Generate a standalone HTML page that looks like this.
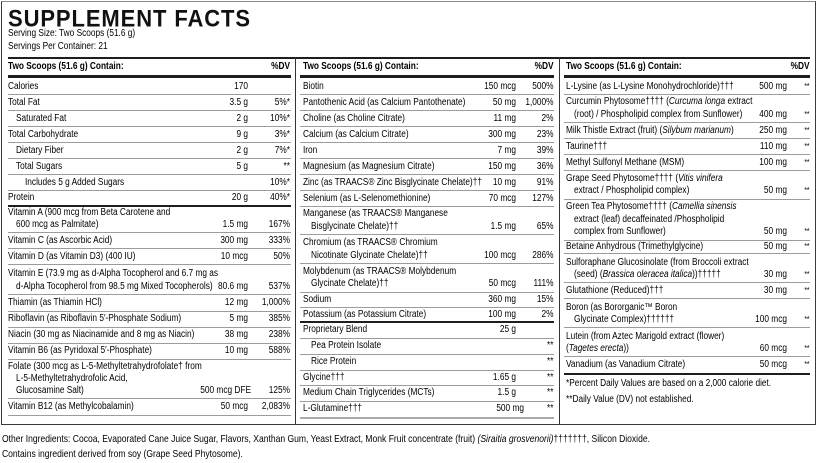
<!DOCTYPE html>
<html><head><meta charset="utf-8">
<style>
html,body{margin:0;padding:0}
body{width:819px;height:463px;overflow:hidden;background:#fff;position:relative;font-family:"Liberation Sans",Arial,sans-serif;color:#000}
#box{position:absolute;left:1px;top:1px;width:815px;height:424px;box-sizing:border-box;border:1.5px solid #3a3a3a;border-top-color:#8a8a8a}
#title{position:absolute;left:8px;top:6.9px;font-size:22px;line-height:22px;font-weight:bold;letter-spacing:0.9px;white-space:nowrap;color:#111;transform:scaleY(1.08);transform-origin:0 0}
.h{position:absolute;height:1px;background:#9c9c9c}
.k{background:#1e1e1e;height:2px}
.t3{background:#1e1e1e;height:3px}
.c1{left:8px;width:283px}
.c2{left:300px;width:254px}
.c3{left:564px;width:246px}
.v{position:absolute;top:57px;height:367px;width:1.5px;background:#333}
#s{position:absolute;left:0;top:0;width:calc(819px/.83);height:463px;transform:scaleX(.83);transform-origin:0 0;font-size:10px}
#s div{position:absolute;white-space:nowrap;line-height:12px}
.b{font-weight:bold}
.L0{left:calc(8px/.83)}
.L1{left:calc(8px/.83)} .L1a{left:calc(16px/.83)} .L1b{left:calc(25px/.83)}
.A1{right:calc(571px/.83)} .D1{right:calc(529px/.83)}
.L2{left:calc(303px/.83)} .L2a{left:calc(311px/.83)}
.A2{right:calc(303px/.83)} .D2{right:calc(265.5px/.83)}
.L3{left:calc(566px/.83)} .L3a{left:calc(574px/.83)}
.A3{right:calc(32px/.83)} .D3{right:calc(9.5px/.83)}
.sm{font-size:8px}
.ft{left:calc(2px/.83);font-size:10.3px}
i{font-style:italic}
</style></head><body>
<div id="box"></div>
<div id="title">SUPPLEMENT FACTS</div>

<!-- lines -->
<div class="h k" style="left:8px;width:802px;top:57px"></div>
<div class="h t3 c1" style="top:75px"></div>
<div class="h t3 c2" style="top:75px"></div>
<div class="h t3 c3" style="top:75px"></div>
<div class="v" style="left:294.5px"></div>
<div class="v" style="left:558.5px"></div>

<!-- col1 lines -->
<div class="h c1" style="top:94px"></div>
<div class="h c1" style="top:110px"></div>
<div class="h c1" style="top:126px"></div>
<div class="h c1" style="top:142px"></div>
<div class="h c1" style="top:158px"></div>
<div class="h c1" style="top:174px"></div>
<div class="h c1" style="top:190px"></div>
<div class="h k c1" style="top:205px"></div>
<div class="h c1" style="top:232px"></div>
<div class="h c1" style="top:248px"></div>
<div class="h c1" style="top:264px"></div>
<div class="h c1" style="top:294px"></div>
<div class="h c1" style="top:311px"></div>
<div class="h c1" style="top:327px"></div>
<div class="h c1" style="top:343px"></div>
<div class="h c1" style="top:359px"></div>
<div class="h c1" style="top:398px"></div>
<div class="h c1" style="top:415px"></div>

<!-- col2 lines -->
<div class="h c2" style="top:94px"></div>
<div class="h c2" style="top:110px"></div>
<div class="h c2" style="top:126px"></div>
<div class="h c2" style="top:142px"></div>
<div class="h c2" style="top:158px"></div>
<div class="h c2" style="top:174px"></div>
<div class="h c2" style="top:190px"></div>
<div class="h c2" style="top:206px"></div>
<div class="h c2" style="top:234px"></div>
<div class="h c2" style="top:263px"></div>
<div class="h c2" style="top:292px"></div>
<div class="h c2" style="top:307px"></div>
<div class="h k c2" style="top:321px"></div>
<div class="h c2" style="top:338px"></div>
<div class="h c2" style="top:354px"></div>
<div class="h c2" style="top:370px"></div>
<div class="h c2" style="top:385px"></div>
<div class="h c2" style="top:401px"></div>
<div class="h c2" style="top:417px;height:2px;background:#aaa"></div>

<!-- col3 lines -->
<div class="h c3" style="top:94px"></div>
<div class="h c3" style="top:122px"></div>
<div class="h c3" style="top:138px"></div>
<div class="h c3" style="top:154px"></div>
<div class="h c3" style="top:170px"></div>
<div class="h c3" style="top:199px"></div>
<div class="h c3" style="top:240px"></div>
<div class="h c3" style="top:253px"></div>
<div class="h c3" style="top:282px"></div>
<div class="h c3" style="top:298px"></div>
<div class="h c3" style="top:327px"></div>
<div class="h c3" style="top:356px"></div>
<div class="h k c3" style="top:373px"></div>

<div id="s">
<div class="L0" style="top:28px">Serving Size: Two Scoops (51.6 g)</div>
<div class="L0" style="top:40.5px">Servings Per Container: 21</div>

<!-- column 1 -->
<div class="L1 b" style="top:61px">Two Scoops (51.6 g) Contain:</div>
<div class="D1 b" style="top:61px">%DV</div>

<div class="L1" style="top:80.5px">Calories</div><div class="A1" style="top:80.5px">170</div>
<div class="L1" style="top:96.5px">Total Fat</div><div class="A1" style="top:96.5px">3.5 g</div><div class="D1" style="top:96.5px">5%*</div>
<div class="L1a" style="top:112.5px">Saturated Fat</div><div class="A1" style="top:112.5px">2 g</div><div class="D1" style="top:112.5px">10%*</div>
<div class="L1" style="top:128.5px">Total Carbohydrate</div><div class="A1" style="top:128.5px">9 g</div><div class="D1" style="top:128.5px">3%*</div>
<div class="L1a" style="top:144.5px">Dietary Fiber</div><div class="A1" style="top:144.5px">2 g</div><div class="D1" style="top:144.5px">7%*</div>
<div class="L1a" style="top:160.5px">Total Sugars</div><div class="A1" style="top:160.5px">5 g</div><div class="D1" style="top:160.5px">**</div>
<div class="L1b" style="top:176.5px">Includes 5 g Added Sugars</div><div class="D1" style="top:176.5px">10%*</div>
<div class="L1" style="top:191.5px">Protein</div><div class="A1" style="top:191.5px">20 g</div><div class="D1" style="top:191.5px">40%*</div>
<div class="L1" style="top:206.5px">Vitamin A (900 mcg from Beta Carotene and</div>
<div class="L1a" style="top:219px">600 mcg as Palmitate)</div><div class="A1" style="top:219px">1.5 mg</div><div class="D1" style="top:219px">167%</div>
<div class="L1" style="top:235px">Vitamin C (as Ascorbic Acid)</div><div class="A1" style="top:235px">300 mg</div><div class="D1" style="top:235px">333%</div>
<div class="L1" style="top:251px">Vitamin D (as Vitamin D3) (400 IU)</div><div class="A1" style="top:251px">10 mcg</div><div class="D1" style="top:251px">50%</div>
<div class="L1" style="top:267.5px">Vitamin E (73.9 mg as d-Alpha Tocopherol and 6.7 mg as</div>
<div class="L1a" style="top:280.5px">d-Alpha Tocopherol from 98.5 mg Mixed Tocopherols)</div><div class="A1" style="top:280.5px">80.6 mg</div><div class="D1" style="top:280.5px">537%</div>
<div class="L1" style="top:296.5px">Thiamin (as Thiamin HCl)</div><div class="A1" style="top:296.5px">12 mg</div><div class="D1" style="top:296.5px">1,000%</div>
<div class="L1" style="top:313px">Riboflavin (as Riboflavin 5′-Phosphate Sodium)</div><div class="A1" style="top:313px">5 mg</div><div class="D1" style="top:313px">385%</div>
<div class="L1" style="top:329px">Niacin (30 mg as Niacinamide and 8 mg as Niacin)</div><div class="A1" style="top:329px">38 mg</div><div class="D1" style="top:329px">238%</div>
<div class="L1" style="top:345px">Vitamin B6 (as Pyridoxal 5′-Phosphate)</div><div class="A1" style="top:345px">10 mg</div><div class="D1" style="top:345px">588%</div>
<div class="L1" style="top:360.5px">Folate (300 mcg as L-5-Methyltetrahydrofolate† from</div>
<div class="L1a" style="top:373px">L-5-Methyltetrahydrofolic Acid,</div>
<div class="L1a" style="top:385px">Glucosamine Salt)</div><div style="top:385px;right:calc(568px/.83)">500 mcg DFE</div><div class="D1" style="top:385px">125%</div>
<div class="L1" style="top:401px">Vitamin B12 (as Methylcobalamin)</div><div class="A1" style="top:401px">50 mcg</div><div class="D1" style="top:401px">2,083%</div>

<!-- column 2 -->
<div class="L2 b" style="top:61px">Two Scoops (51.6 g) Contain:</div>
<div class="D2 b" style="top:61px">%DV</div>
<div class="L2" style="top:80.5px">Biotin</div><div class="A2" style="top:80.5px">150 mcg</div><div class="D2" style="top:80.5px">500%</div>
<div class="L2" style="top:96.5px">Pantothenic Acid (as Calcium Pantothenate)</div><div class="A2" style="top:96.5px">50 mg</div><div class="D2" style="top:96.5px">1,000%</div>
<div class="L2" style="top:112.5px">Choline (as Choline Citrate)</div><div class="A2" style="top:112.5px">11 mg</div><div class="D2" style="top:112.5px">2%</div>
<div class="L2" style="top:128.5px">Calcium (as Calcium Citrate)</div><div class="A2" style="top:128.5px">300 mg</div><div class="D2" style="top:128.5px">23%</div>
<div class="L2" style="top:144.5px">Iron</div><div class="A2" style="top:144.5px">7 mg</div><div class="D2" style="top:144.5px">39%</div>
<div class="L2" style="top:160.5px">Magnesium (as Magnesium Citrate)</div><div class="A2" style="top:160.5px">150 mg</div><div class="D2" style="top:160.5px">36%</div>
<div class="L2" style="top:176.5px">Zinc (as TRAACS® Zinc Bisglycinate Chelate)††</div><div class="A2" style="top:176.5px">10 mg</div><div class="D2" style="top:176.5px">91%</div>
<div class="L2" style="top:192.5px">Selenium (as L-Selenomethionine)</div><div class="A2" style="top:192.5px">70 mcg</div><div class="D2" style="top:192.5px">127%</div>
<div class="L2" style="top:208px">Manganese (as TRAACS® Manganese</div>
<div class="L2a" style="top:220.5px">Bisglycinate Chelate)††</div><div class="A2" style="top:220.5px">1.5 mg</div><div class="D2" style="top:220.5px">65%</div>
<div class="L2" style="top:237px">Chromium (as TRAACS® Chromium</div>
<div class="L2a" style="top:249.5px">Nicotinate Glycinate Chelate)††</div><div class="A2" style="top:249.5px">100 mcg</div><div class="D2" style="top:249.5px">286%</div>
<div class="L2" style="top:265.5px">Molybdenum (as TRAACS® Molybdenum</div>
<div class="L2a" style="top:278px">Glycinate Chelate)††</div><div class="A2" style="top:278px">50 mcg</div><div class="D2" style="top:278px">111%</div>
<div class="L2" style="top:293.5px">Sodium</div><div class="A2" style="top:293.5px">360 mg</div><div class="D2" style="top:293.5px">15%</div>
<div class="L2" style="top:308.5px">Potassium (as Potassium Citrate)</div><div class="A2" style="top:308.5px">100 mg</div><div class="D2" style="top:308.5px">2%</div>
<div class="L2" style="top:324px">Proprietary Blend</div><div class="A2" style="top:324px">25 g</div>
<div class="L2a" style="top:340px">Pea Protein Isolate</div><div class="D2" style="top:340px">**</div>
<div class="L2a" style="top:356px">Rice Protein</div><div class="D2" style="top:356px">**</div>
<div class="L2" style="top:371.5px">Glycine†††</div><div class="A2" style="top:371.5px">1.65 g</div><div class="D2" style="top:371.5px">**</div>
<div class="L2" style="top:387px">Medium Chain Triglycerides (MCTs)</div><div class="A2" style="top:387px">1.5 g</div><div class="D2" style="top:387px">**</div>
<div class="L2" style="top:403px">L-Glutamine†††</div><div style="top:403px;right:calc(295px/.83)">500 mg</div><div class="D2" style="top:403px">**</div>

<!-- column 3 -->
<div class="L3 b" style="top:61px">Two Scoops (51.6 g) Contain:</div>
<div class="D3 b" style="top:61px">%DV</div>
<div class="L3" style="top:80.5px">L-Lysine (as L-Lysine Monohydrochloride)†††</div><div class="A3" style="top:80.5px">500 mg</div><div class="D3 sm" style="top:80.5px">**</div>
<div class="L3" style="top:96px">Curcumin Phytosome†††† (<i>Curcuma longa</i> extract</div>
<div class="L3a" style="top:108.5px">(root) / Phospholipid complex from Sunflower)</div><div class="A3" style="top:108.5px">400 mg</div><div class="D3 sm" style="top:108.5px">**</div>
<div class="L3" style="top:124.5px">Milk Thistle Extract (fruit) (<i>Silybum marianum</i>)</div><div class="A3" style="top:124.5px">250 mg</div><div class="D3 sm" style="top:124.5px">**</div>
<div class="L3" style="top:140.5px">Taurine†††</div><div class="A3" style="top:140.5px">110 mg</div><div class="D3 sm" style="top:140.5px">**</div>
<div class="L3" style="top:156.5px">Methyl Sulfonyl Methane (MSM)</div><div class="A3" style="top:156.5px">100 mg</div><div class="D3 sm" style="top:156.5px">**</div>
<div class="L3" style="top:172.5px">Grape Seed Phytosome†††† (<i>Vitis vinifera</i></div>
<div class="L3a" style="top:185px">extract / Phospholipid complex)</div><div class="A3" style="top:185px">50 mg</div><div class="D3 sm" style="top:185px">**</div>
<div class="L3" style="top:201px">Green Tea Phytosome†††† (<i>Camellia sinensis</i></div>
<div class="L3a" style="top:213.5px">extract (leaf) decaffeinated /Phospholipid</div>
<div class="L3a" style="top:226px">complex from Sunflower)</div><div class="A3" style="top:226px">50 mg</div><div class="D3 sm" style="top:226px">**</div>
<div class="L3" style="top:240.5px">Betaine Anhydrous (Trimethylglycine)</div><div class="A3" style="top:240.5px">50 mg</div><div class="D3 sm" style="top:240.5px">**</div>
<div class="L3" style="top:256.5px">Sulforaphane Glucosinolate (from Broccoli extract</div>
<div class="L3a" style="top:269px">(seed) (<i>Brassica oleracea italica</i>))†††††</div><div class="A3" style="top:269px">30 mg</div><div class="D3 sm" style="top:269px">**</div>
<div class="L3" style="top:285px">Glutathione (Reduced)†††</div><div class="A3" style="top:285px">30 mg</div><div class="D3 sm" style="top:285px">**</div>
<div class="L3" style="top:301.5px">Boron (as Bororganic™ Boron</div>
<div class="L3a" style="top:314px">Glycinate Complex)††††††</div><div class="A3" style="top:314px">100 mcg</div><div class="D3 sm" style="top:314px">**</div>
<div class="L3" style="top:330.5px">Lutein (from Aztec Marigold extract (flower)</div>
<div class="L3" style="top:343px">(<i>Tagetes erecta</i>))</div><div class="A3" style="top:343px">60 mcg</div><div class="D3 sm" style="top:343px">**</div>
<div class="L3" style="top:359px">Vanadium (as Vanadium Citrate)</div><div class="A3" style="top:359px">50 mcg</div><div class="D3 sm" style="top:359px">**</div>
<div class="L3" style="top:378px">*Percent Daily Values are based on a 2,000 calorie diet.</div>
<div class="L3" style="top:394px">**Daily Value (DV) not established.</div>

<!-- footer -->
<div class="ft" style="top:434px">Other Ingredients: Cocoa, Evaporated Cane Juice Sugar, Flavors, Xanthan Gum, Yeast Extract, Monk Fruit concentrate (fruit) <i>(Siraitia grosvenorii)</i>†††††††, Silicon Dioxide.</div>
<div class="ft" style="top:448.5px">Contains ingredient derived from soy (Grape Seed Phytosome).</div>
</div>
</body></html>
